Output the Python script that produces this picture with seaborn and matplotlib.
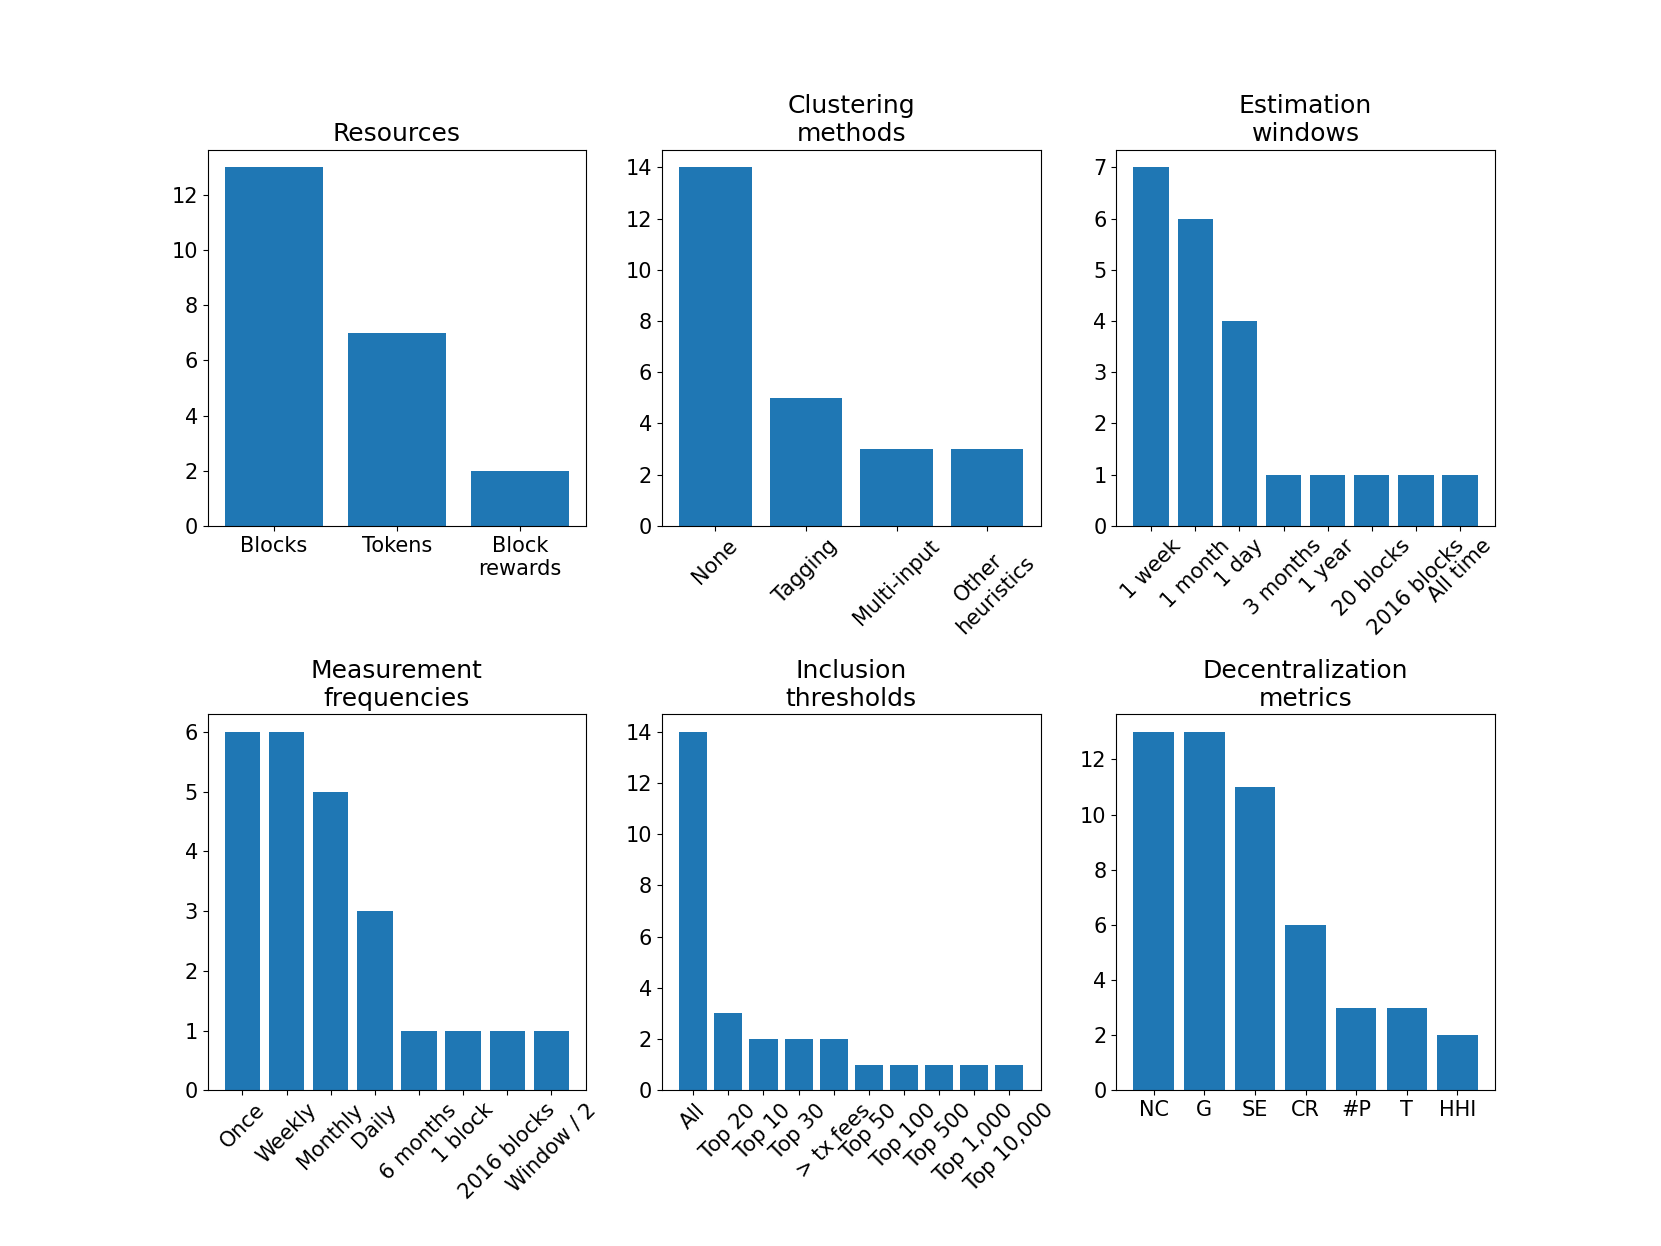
import matplotlib
matplotlib.use("Agg")
import matplotlib.pyplot as plt
import seaborn as sns
import pandas as pd

# survey counts per panel
resources = ["Blocks", "Tokens", "Block\nrewards"]
resources_n = [13, 7, 2]

clustering = ["None", "Tagging", "Multi-input", "Other\nheuristics"]
clustering_n = [14, 5, 3, 3]

windows = ["1 week", "1 month", "1 day", "3 months", "1 year", "20 blocks", "2016 blocks", "All time"]
windows_n = [7, 6, 4, 1, 1, 1, 1, 1]

frequencies = ["Once", "Weekly", "Monthly", "Daily", "6 months", "1 block", "2016 blocks", "Window / 2"]
frequencies_n = [6, 6, 5, 3, 1, 1, 1, 1]

thresholds = ["All", "Top 20", "Top 10", "Top 30", "> tx fees", "Top 50", "Top 100", "Top 500", "Top 1,000", "Top 10,000"]
thresholds_n = [14, 3, 2, 2, 2, 1, 1, 1, 1, 1]

metrics = ["NC", "G", "SE", "CR", "#P", "T", "HHI"]
metrics_n = [13, 13, 11, 6, 3, 3, 2]

panels = [
    ("Resources", resources, resources_n, 0),
    ("Clustering\nmethods", clustering, clustering_n, 45),
    ("Estimation\nwindows", windows, windows_n, 45),
    ("Measurement\nfrequencies", frequencies, frequencies_n, 45),
    ("Inclusion\nthresholds", thresholds, thresholds_n, 45),
    ("Decentralization\nmetrics", metrics, metrics_n, 0),
]

plt.rcParams["font.size"] = 15

fig, axes = plt.subplots(2, 3, figsize=(16.61, 12.46), dpi=100)
plt.subplots_adjust(left=0.125, right=0.9, top=0.88, bottom=0.125, wspace=0.2, hspace=0.5)

for ax, (title, cats, counts, rot) in zip(axes.flat, panels):
    df = pd.DataFrame({"cat": cats, "n": counts})
    sns.barplot(data=df, x="cat", y="n", color="#1f77b4", saturation=1, width=0.8, ax=ax)
    ax.autoscale(enable=True, axis="x")
    ax.set_title(title, fontsize=18)
    ax.set_xlabel("")
    ax.set_ylabel("")
    ax.tick_params(axis="x", labelrotation=rot)
    for lab in ax.get_xticklabels():
        lab.set_ha("center")

plt.savefig("out.png", dpi=100)
plt.close()
